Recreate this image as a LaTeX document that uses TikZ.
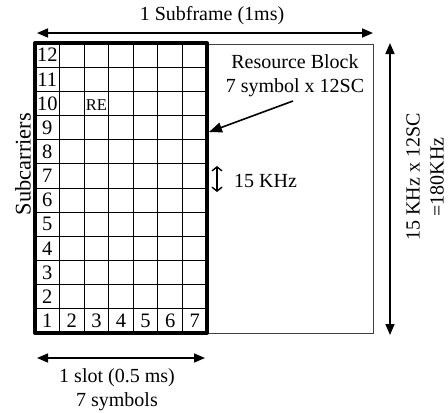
\documentclass[tikz,border=0pt]{standalone}
\usepackage{fontspec}
\setmainfont{Liberation Serif}
\usetikzlibrary{arrows.meta}
\begin{document}
\begin{tikzpicture}[x=1pt,y=-1pt,
  lbl/.style={inner sep=0pt,font=\fontsize{20}{24}\selectfont,align=center},
  num/.style={inner sep=0pt,font=\fontsize{20.5}{24}\selectfont},
  dim/.style={line width=1.6pt,{Triangle[length=11pt,width=9pt]}-{Triangle[length=11pt,width=9pt]}},
  pointer/.style={line width=1.6pt,-{Triangle[length=13pt,width=10pt]}},
  spacing/.style={line width=1.4pt,{Straight Barb[length=4pt,width=10pt]}-{Straight Barb[length=4pt,width=10pt]}},
  gridline/.style={line width=0.9pt},
  rbframe/.style={line width=4pt,line join=round},
  sfframe/.style={line width=1pt,draw=black!75}]
\useasboundingbox (0,0) rectangle (448,413);

% geometry of the resource grid
\def\gx{35}\def\gy{43}\def\cw{24.571}\def\rh{24.1667}

% whole subframe outline
\coordinate (sfNW) at (35,44);
\coordinate (sfSE) at (373,333);
\draw[sfframe] (sfNW) rectangle (sfSE);

% inner grid lines: 7 symbols x 12 subcarriers
\foreach \i in {1,...,6}
  \draw[gridline] (\gx+\i*\cw,\gy) -- (\gx+\i*\cw,333);
\foreach \j in {1,...,11}
  \draw[gridline] (\gx,\gy+\j*\rh) -- (207,\gy+\j*\rh);

% resource block outline
\coordinate (rbNW) at (35,43);
\coordinate (rbSE) at (207,333);
\draw[rbframe] (rbNW) rectangle (rbSE);

% subcarrier numbers in the first column
\foreach \k in {1,...,12}
  \node[num] (sc\k) at (\gx+0.5*\cw,333-\k*\rh+0.5*\rh) {\k};
% symbol numbers along the bottom row
\foreach \k in {2,...,7}
  \node[num] (sy\k) at (\gx+\k*\cw-0.5*\cw,333-0.5*\rh) {\k};

% one resource element
\node[inner sep=0pt,font=\fontsize{16.5}{20}\selectfont] (re) at (96.5,105.5) {RE};

% subframe duration
\coordinate (sfL) at (37,33);
\coordinate (sfR) at (373,33);
\draw[dim] (sfL) -- (sfR);
\node[lbl] (sflabel) at (212,16) {1 Subframe (1ms)};

% resource block callout
\node[lbl] (rblabel) at (295,76) {Resource Block\\7 symbol x 12SC};
\coordinate (rbtail) at (293,101);
\coordinate (rbtip) at (209,132);
\draw[pointer] (rbtail) -- (rbtip);

% subcarrier spacing
\coordinate (ssT) at (217,166);
\coordinate (ssB) at (217,192);
\draw[spacing] (ssT) -- (ssB);
\node[lbl,anchor=base west] (sslabel) at (234,187) {15 KHz};

% resource block bandwidth
\coordinate (bwT) at (390,43);
\coordinate (bwB) at (390,335);
\draw[dim] (bwT) -- (bwB);
\node[lbl,rotate=90] (bwlabel) at (425,177) {15 KHz x 12SC\\=180KHz};

% axis label
\node[lbl,rotate=90,font=\fontsize{22.4}{26}\selectfont] (axis) at (23,164) {Subcarriers};

% slot duration
\coordinate (slL) at (37,358);
\coordinate (slR) at (205,358);
\draw[dim] (slL) -- (slR);
\node[lbl] (sllabel) at (117,390) {1 slot (0.5 ms)\\7 symbols};
\end{tikzpicture}
\end{document}
